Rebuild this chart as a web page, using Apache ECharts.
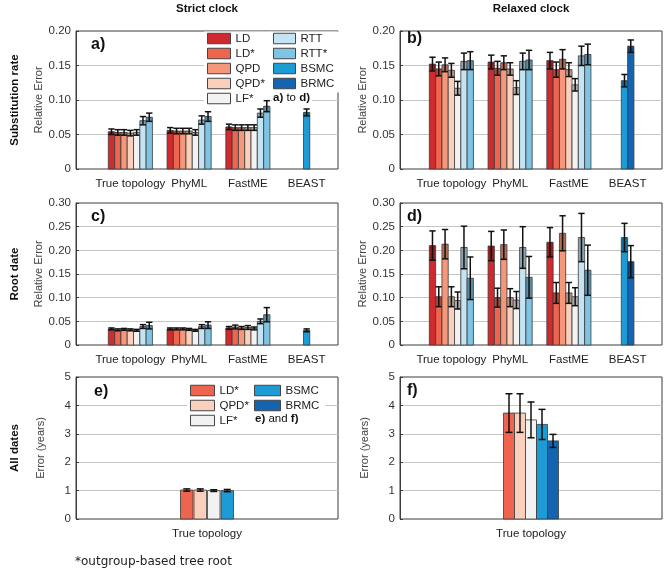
<!DOCTYPE html>
<html>
<head>
<meta charset="utf-8">
<style>html,body{margin:0;padding:0;background:#fff}#chart{width:667px;height:574px}</style>
<script src="https://cdn.jsdelivr.net/npm/echarts@6/dist/echarts.min.js"></script>
</head>
<body>
<div id="chart"></div>
<script>
'use strict';

var methods = ['LD', 'LD*', 'QPD', 'QPD*', 'LF*', 'RTT', 'RTT*', 'BSMC', 'BRMC'];
var treeCats = ['True topology', 'PhyML', 'FastME', 'BEAST'];
var datesCats = ['True topology'];

var rateTicks = [0, 0.05, 0.10, 0.15, 0.20];
var rootTicks = [0, 0.05, 0.10, 0.15, 0.20, 0.25, 0.30];
var datesTicks = [0, 1, 2, 3, 4, 5];

// rows follow the methods list, columns follow the categories
// a) strict clock, substitution rate
var strictRateMean = [
  [0.054, 0.056, 0.061, null],
  [0.053, 0.055, 0.060, null],
  [0.053, 0.055, 0.060, null],
  [0.052, 0.055, 0.060, null],
  [0.053, 0.053, 0.060, null],
  [0.070, 0.071, 0.081, null],
  [0.075, 0.076, 0.091, null],
  [null, null, null, 0.082],
  [null, null, null, null]
];
var strictRateErr = [
  [0.004, 0.004, 0.004, null],
  [0.004, 0.004, 0.004, null],
  [0.004, 0.004, 0.004, null],
  [0.004, 0.004, 0.004, null],
  [0.004, 0.004, 0.004, null],
  [0.006, 0.006, 0.006, null],
  [0.006, 0.007, 0.008, null],
  [null, null, null, 0.005],
  [null, null, null, null]
];

// b) relaxed clock, substitution rate
var relaxedRateMean = [
  [0.152, 0.155, 0.157, null],
  [0.145, 0.146, 0.144, null],
  [0.151, 0.154, 0.159, null],
  [0.143, 0.145, 0.144, null],
  [0.117, 0.118, 0.122, null],
  [0.156, 0.156, 0.164, null],
  [0.157, 0.158, 0.166, null],
  [null, null, null, 0.128],
  [null, null, null, 0.178]
];
var relaxedRateErr = [
  [0.010, 0.010, 0.012, null],
  [0.010, 0.010, 0.011, null],
  [0.010, 0.010, 0.014, null],
  [0.010, 0.009, 0.010, null],
  [0.010, 0.010, 0.009, null],
  [0.012, 0.012, 0.014, null],
  [0.013, 0.014, 0.015, null],
  [null, null, null, 0.009],
  [null, null, null, 0.009]
];

// c) strict clock, root date
var strictRootMean = [
  [0.034, 0.034, 0.036, null],
  [0.032, 0.034, 0.038, null],
  [0.033, 0.034, 0.036, null],
  [0.032, 0.033, 0.037, null],
  [0.031, 0.031, 0.035, null],
  [0.039, 0.039, 0.050, null],
  [0.041, 0.042, 0.064, null],
  [null, null, null, 0.031],
  [null, null, null, null]
];
var strictRootErr = [
  [0.002, 0.002, 0.003, null],
  [0.002, 0.002, 0.004, null],
  [0.002, 0.002, 0.003, null],
  [0.002, 0.002, 0.004, null],
  [0.002, 0.002, 0.003, null],
  [0.004, 0.004, 0.005, null],
  [0.007, 0.007, 0.015, null],
  [null, null, null, 0.003],
  [null, null, null, null]
];

// d) relaxed clock, root date
var relaxedRootMean = [
  [0.210, 0.209, 0.217, null],
  [0.102, 0.100, 0.110, null],
  [0.213, 0.212, 0.236, null],
  [0.102, 0.100, 0.110, null],
  [0.094, 0.095, 0.102, null],
  [0.206, 0.206, 0.227, null],
  [0.141, 0.143, 0.158, null],
  [null, null, null, 0.227],
  [null, null, null, 0.176]
];
var relaxedRootErr = [
  [0.031, 0.031, 0.031, null],
  [0.021, 0.020, 0.022, null],
  [0.031, 0.031, 0.037, null],
  [0.021, 0.019, 0.022, null],
  [0.018, 0.018, 0.019, null],
  [0.045, 0.044, 0.051, null],
  [0.045, 0.044, 0.053, null],
  [null, null, null, 0.030],
  [null, null, null, 0.034]
];

// e) / f) all dates, error in years
var strictDatesMean = [[null], [1.02], [null], [1.02], [1.00], [null], [null], [1.00], [null]];
var strictDatesErr = [[null], [0.04], [null], [0.04], [0.03], [null], [null], [0.04], [null]];
var relaxedDatesMean = [[null], [3.73], [null], [3.73], [3.49], [null], [null], [3.33], [2.75]];
var relaxedDatesErr = [[null], [0.68], [null], [0.68], [0.63], [null], [null], [0.53], [0.23]];

var colors = ['#cf2a2e', '#ee644e', '#f4977b', '#fad0bd', '#f2f2f2', '#c4e3f3', '#7ec4e4', '#1c9bd4', '#1464b0'];
var FONT = '"Liberation Sans", Arial, sans-serif';

var chart = echarts.init(document.getElementById('chart'));

// 画柱子和误差线
function makeRender(barW, gap, color, shade) {
  return function (params, api) {
    var cat = api.value(0);
    var top = api.coord([cat, api.value(1)]);
    var base = api.coord([cat, 0]);
    var lo = api.coord([cat, api.value(2)])[1];
    var hi = api.coord([cat, api.value(3)])[1];
    var cx = top[0] + api.value(4) * (barW + gap);
    var x0 = cx - barW / 2;
    var cap = Math.min(barW, 7) / 2;
    var ln = { stroke: '#111', lineWidth: 1.5 };
    var kids = [
      { type: 'rect', shape: { x: x0, y: top[1], width: barW, height: base[1] - top[1] },
        style: { fill: color, stroke: '#3a3a3a', lineWidth: 0.8 } }
    ];
    if (shade) {
      kids.push({ type: 'rect', shape: { x: x0 + 0.4, y: top[1], width: barW - 0.8, height: Math.max(0, lo - top[1]) },
        style: { fill: 'rgba(0,0,0,0.28)' } });
    }
    kids.push({ type: 'line', shape: { x1: cx, y1: lo, x2: cx, y2: hi }, style: ln });
    kids.push({ type: 'line', shape: { x1: cx - cap, y1: lo, x2: cx + cap, y2: lo }, style: ln });
    kids.push({ type: 'line', shape: { x1: cx - cap, y1: hi, x2: cx + cap, y2: hi }, style: ln });
    return { type: 'group', children: kids };
  };
}

function buildSeries(mean, err, axisIdx, barW, gap, shade) {
  var n = mean[0].length;
  var present = [];
  for (var c = 0; c < n; c++) {
    var list = [];
    for (var m = 0; m < methods.length; m++) {
      if (mean[m][c] != null) list.push(m);
    }
    present.push(list);
  }
  var out = [];
  for (var m = 0; m < methods.length; m++) {
    var data = [];
    for (var c = 0; c < n; c++) {
      if (mean[m][c] == null) continue;
      var slot = present[c].indexOf(m) - (present[c].length - 1) / 2;
      data.push([c, mean[m][c], mean[m][c] - err[m][c], mean[m][c] + err[m][c], slot]);
    }
    if (!data.length) continue;
    out.push({
      name: methods[m],
      type: 'custom',
      xAxisIndex: axisIdx,
      yAxisIndex: axisIdx,
      z: 2,
      itemStyle: { color: colors[m] },
      renderItem: makeRender(barW, gap, colors[m], shade),
      encode: { x: 0, y: [1, 2, 3] },
      data: data
    });
  }
  return out;
}

// frame grids (a..f) and the narrower bar grids for a..d
var frames = [
  { left: 76, top: 31, height: 138 },
  { left: 400, top: 31, height: 138 },
  { left: 76, top: 203, height: 142 },
  { left: 400, top: 203, height: 142 },
  { left: 76, top: 377, height: 142 },
  { left: 400, top: 377, height: 142 }
];
var barLeft = [101, 422, 101, 422];
var panelTicks = [rateTicks, rateTicks, rootTicks, rootTicks, datesTicks, datesTicks];

var grids = [], xAxes = [], yAxes = [];
frames.forEach(function (f, i) {
  grids.push({ left: f.left, top: f.top, width: 262, height: f.height, show: true,
    borderColor: '#3c3c3c', borderWidth: 1, backgroundColor: 'transparent' });
  var t = panelTicks[i];
  var isDates = i >= 4;
  yAxes.push({
    type: 'value', gridIndex: i, min: t[0], max: t[t.length - 1], interval: t[1] - t[0],
    name: isDates ? 'Error (years)' : 'Relative Error',
    nameLocation: 'middle', nameGap: 30,
    nameTextStyle: { fontSize: 11, color: '#444', fontFamily: FONT },
    axisLine: { show: true, lineStyle: { color: '#3c3c3c' } },
    axisTick: { show: true, inside: true, length: 3, lineStyle: { color: '#3c3c3c' } },
    axisLabel: { fontSize: 11.5, color: '#333', margin: 5, fontFamily: FONT,
      formatter: function (v) { return v === 0 ? '0' : (isDates ? String(v) : v.toFixed(2)); } },
    splitLine: { show: true, showMinLine: false, showMaxLine: false, lineStyle: { color: '#c6c6c6', width: 1 } }
  });
  if (isDates) {
    xAxes.push({ type: 'category', gridIndex: i, data: datesCats,
      axisLine: { show: false }, axisTick: { show: false },
      axisLabel: { interval: 0, fontSize: 11.5, color: '#222', margin: 9, fontFamily: FONT } });
  } else {
    xAxes.push({ type: 'value', gridIndex: i, min: 0, max: 1, show: false });
  }
});
barLeft.forEach(function (l, i) {
  var f = frames[i];
  var t = panelTicks[i];
  grids.push({ left: l, top: f.top, width: 235, height: f.height });
  xAxes.push({ type: 'category', gridIndex: 6 + i, data: treeCats,
    axisLine: { show: false }, axisTick: { show: false },
    axisLabel: { interval: 0, hideOverlap: false, fontSize: 11.5, color: '#222', margin: 9, fontFamily: FONT } });
  yAxes.push({ type: 'value', gridIndex: 6 + i, min: t[0], max: t[t.length - 1], show: false });
});

var series = [].concat(
  buildSeries(strictRateMean, strictRateErr, 6, 6.3, 0, true),
  buildSeries(relaxedRateMean, relaxedRateErr, 7, 6.3, 0, true),
  buildSeries(strictRootMean, strictRootErr, 8, 6.3, 0, true),
  buildSeries(relaxedRootMean, relaxedRootErr, 9, 6.3, 0, true),
  buildSeries(strictDatesMean, strictDatesErr, 4, 12.5, 1, false),
  buildSeries(relaxedDatesMean, relaxedDatesErr, 5, 11, 0, false)
);

function legendBox(names, left, top, w) {
  return {
    data: names, left: left, top: top, orient: 'vertical', icon: 'rect',
    itemWidth: w, itemHeight: 10.5, itemGap: 3, z: 1, selectedMode: false,
    backgroundColor: '#fff', padding: [1, 6, 3, 3],
    itemStyle: { borderColor: '#444', borderWidth: 1 },
    textStyle: { fontSize: 11.5, color: '#222', fontFamily: FONT }
  };
}

function txt(s, x, y, size, bold, extra) {
  var o = { type: 'text', x: x, y: y, z: 5,
    style: { text: s, fontSize: size, fontWeight: bold ? 'bold' : 'normal', fontFamily: FONT,
      fill: '#111', align: 'left', verticalAlign: 'middle' } };
  if (extra) {
    for (var k in extra) o.style[k] = extra[k];
  }
  return o;
}

var graphics = [
  txt('Strict clock', 207, 9, 11.5, true, { align: 'center' }),
  txt('Relaxed clock', 531, 9, 11.5, true, { align: 'center' }),
  txt('a)', 91, 45, 16, true),
  txt('b)', 407, 39, 16, true),
  txt('c)', 91, 217, 16, true),
  txt('d)', 407, 217, 16, true),
  txt('e)', 94, 392, 16, true),
  txt('f)', 407, 391, 16, true),
  txt('*outgroup-based tree root', 75, 562, 12, false, { fontFamily: '"DejaVu Sans", sans-serif', fill: '#222' })
];
[['Substitution rate', 100], ['Root date', 274], ['All dates', 448]].forEach(function (r) {
  var g = txt(r[0], 15, r[1], 11.5, true, { align: 'center' });
  g.rotation = Math.PI / 2;
  graphics.push(g);
});
var sub1 = txt('{b|a)} to {b|d)}', 272, 98, 11.5, false, {
  backgroundColor: '#fff', padding: [1, 2, 1, 1],
  rich: { b: { fontWeight: 'bold', fontSize: 11.5, fontFamily: FONT } } });
sub1.z = 1;
var sub2 = txt('{b|e)} and {b|f)}', 254, 419, 11.5, false, {
  backgroundColor: '#fff', padding: [1, 2, 1, 1],
  rich: { b: { fontWeight: 'bold', fontSize: 11.5, fontFamily: FONT } } });
sub2.z = 1;
graphics.push(sub1, sub2);

var option = {
  animation: false,
  backgroundColor: '#fff',
  textStyle: { fontFamily: FONT },
  grid: grids,
  xAxis: xAxes,
  yAxis: yAxes,
  legend: [
    legendBox(['LD', 'LD*', 'QPD', 'QPD*', 'LF*'], 204, 31.5, 23),
    legendBox(['RTT', 'RTT*', 'BSMC', 'BRMC'], 270, 31.5, 22),
    legendBox(['LD*', 'QPD*', 'LF*'], 187, 383.5, 24),
    legendBox(['BSMC', 'BRMC'], 251, 383.5, 26)
  ],
  graphic: graphics,
  series: series
};

chart.setOption(option);
window.onresize = chart.resize;
</script>
</body>
</html>
